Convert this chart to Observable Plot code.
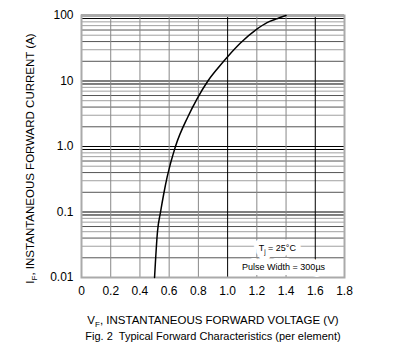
<!DOCTYPE html>
<html><head><meta charset="utf-8">
<script src="https://cdn.jsdelivr.net/npm/d3@7"></script>
<script src="https://cdn.jsdelivr.net/npm/@observablehq/plot@0.6"></script>
<style>
body{margin:0;background:#fff;}
svg{font-family:"Liberation Sans",Arial,sans-serif;}
</style>
</head><body><div id="chart"></div>
<script>
// Forward characteristic
const voltage = [0.50, 0.52, 0.541, 0.563, 0.586, 0.643, 0.73, 0.79, 0.865, 0.93, 1.0, 1.088, 1.2, 1.27, 1.33, 1.4];
const current = [0.01, 0.05, 0.1, 0.19, 0.34, 1.0, 2.9, 5.3, 10, 15.4, 23.5, 38, 62, 78, 88, 100];

const xTicks = [0, 0.2, 0.4, 0.6, 0.8, 1.0, 1.2, 1.4, 1.6, 1.8];
const xTickLabels = ["0", "0.2", "0.4", "0.6", "0.8", "1.0", "1.2", "1.4", "1.6", "1.8"];
const yTicks = [0.01, 0.1, 1, 10, 100];
const yTickLabels = ["0.01", "0.1", "1.0", "10", "100"];
const xGrid = [0.2, 0.4, 0.6, 0.8, 1.0, 1.2, 1.4, 1.6];
const noteText = ["T{j} = 25°C", "Pulse Width = 300µs"];
const noteV = [1.34, 1.383];
const noteI = [0.028, 0.0142];

const xLabel = "V{F}, INSTANTANEOUS FORWARD VOLTAGE (V)";
const yLabel = "I{F}, INSTANTANEOUS FORWARD CURRENT (A)";
const caption = "Fig. 2  Typical Forward Characteristics (per element)";

const points = voltage.map((v, i) => ({v, i: current[i]}));
const notes = noteText.map((t, k) => ({t, v: noteV[k], i: noteI[k]}));
const yGrid = d3.scaleLog().domain([0.01, 100]).ticks().filter(d => d > 0.0100001 && d < 99.9);

function gridStroke(d) {
  const k = Math.round(d / Math.pow(10, Math.floor(Math.log10(d) + 1e-9)));
  if (k === 1 || k === 9) return "#000";
  if (k === 2 || k === 4 || k === 6) return "#555";
  return "#a0a0a0";
}

const chart = Plot.plot({
  width: 398, height: 358,
  marginTop: 15, marginBottom: 81, marginLeft: 81, marginRight: 54,
  style: {fontSize: "12px", fontFamily: "'Liberation Sans', Arial, sans-serif", color: "#000", background: "#fff"},
  color: {type: "identity"},
  x: {domain: [0, 1.8], ticks: xTicks, tickFormat: d => xTickLabels[xTicks.indexOf(d)], tickSize: 0, tickPadding: 9, label: null},
  y: {type: "log", domain: [0.01, 100], ticks: yTicks, tickFormat: d => yTickLabels[yTicks.indexOf(d)], tickSize: 0, tickPadding: 8, label: null},
  marks: [
    Plot.ruleY(yGrid, {stroke: d => gridStroke(d), strokeWidth: 1}),
    Plot.ruleX(xGrid, {stroke: d => (d === 1.0 || d === 1.6) ? "#000" : "#888", strokeWidth: 1}),
    Plot.frame({stroke: "#aaa", strokeWidth: 2}),
    Plot.ruleY([100], {stroke: "#aaa", strokeWidth: 3}),
    Plot.line(points, {x: "v", y: "i", curve: "monotone-x", stroke: "#000", strokeWidth: 1.5}),
    Plot.text(notes, {x: "v", y: "i", text: "t", fontSize: 9, fill: "#fff", stroke: "#fff", strokeWidth: 10}),
    Plot.text(notes, {x: "v", y: "i", text: "t", fontSize: 9, fill: "#000"}),
    Plot.text([xLabel], {frameAnchor: "bottom", dy: 46, fontSize: 11.5, fill: "#000"}),
    Plot.text([caption], {frameAnchor: "bottom", dy: 62, fontSize: 11, fill: "#000"}),
    Plot.text([yLabel], {frameAnchor: "left", textAnchor: "middle", rotate: -90, dx: -51, dy: 12, fontSize: 11.5, fill: "#000"})
  ]
});

// turn {x} markers into subscripts
d3.select(chart).selectAll("text").each(function() {
  const t = this.textContent;
  if (!/\{/.test(t)) return;
  const parts = t.split(/(\{[^}]*\})/).filter(p => p.length);
  const sel = d3.select(this);
  sel.text(null);
  let shifted = false;
  parts.forEach(p => {
    if (p.startsWith("{")) {
      sel.append("tspan").attr("dy", 3).attr("font-size", "0.7em").text(p.slice(1, -1));
      shifted = true;
    } else {
      const ts = sel.append("tspan").text(p);
      if (shifted) { ts.attr("dy", -3); shifted = false; }
    }
  });
});

document.getElementById("chart").appendChild(chart);
</script>
</body></html>
